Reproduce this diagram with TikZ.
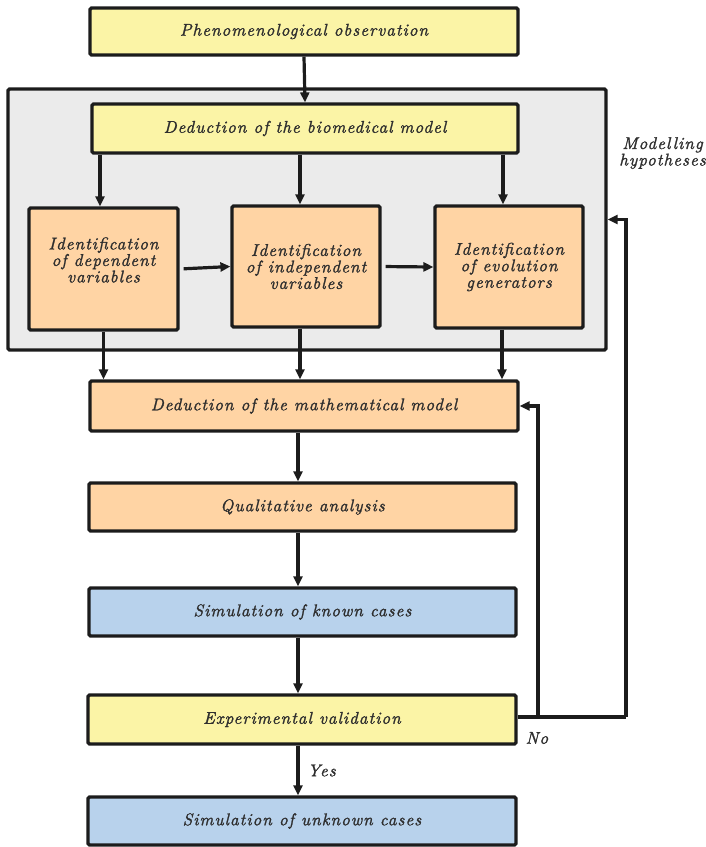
\documentclass[tikz,border=0pt]{standalone}
\usepackage{fontspec}
\usetikzlibrary{arrows.meta,calc}
\newfontfamily\labfont{lmroman10-italic}[Extension=.otf, LetterSpace=6, FakeBold=1.4]
\definecolor{cyel}{HTML}{FBF4A6}
\definecolor{corg}{HTML}{FFD4A4}
\definecolor{cblu}{HTML}{B8D2EC}
\definecolor{cgry}{HTML}{EBEBEB}
\definecolor{cbrd}{HTML}{1C1C1C}
\definecolor{ctxt}{HTML}{2E2E2E}
\begin{document}
\begin{tikzpicture}[x=1pt,y=-1pt,
  box/.style={draw=cbrd, line width=3.2pt, rounded corners=1.5pt, inner sep=0pt, align=center,
    text=ctxt, font=\labfont\fontsize{17}{16.5}\selectfont},
  ybox/.style={box, fill=cyel},
  obox/.style={box, fill=corg},
  bbox/.style={box, fill=cblu},
  arr/.style={draw=cbrd, line width=3.2pt, -{Triangle[length=10pt,width=9pt]}},
  ln/.style={draw=cbrd, line width=3.2pt},
  lbl/.style={text=ctxt, font=\labfont\fontsize{17}{16.5}\selectfont, inner sep=0pt, align=center}]
\useasboundingbox (0,0) rectangle (706,847);
\node[draw=cbrd, fill=cgry, line width=3.2pt, rounded corners=1.5pt, minimum width=598pt, minimum height=261pt] (cont) at (307,219.5) {};
\node[ybox, minimum width=428pt, minimum height=47pt] (obs) at (304,31.5) {Phenomenological observation};
\node[ybox, minimum width=426pt, minimum height=49pt] (bio) at (305,128.5) {Deduction of the biomedical model};
\node[obox, minimum width=149pt, minimum height=122pt] (dep) at (103.5,269) {};
\node[lbl] (deptxt) at ([yshift=9pt]dep.center) {Identification\\of dependent\\variables};
\node[obox, minimum width=148pt, minimum height=121pt] (ind) at (306,266.5) {Identification\\of independent\\variables};
\node[obox, minimum width=148pt, minimum height=122pt] (evo) at (509,267) {Identification\\of evolution\\generators};
\node[obox, minimum width=428pt, minimum height=50pt] (math) at (304,406) {Deduction of the mathematical model};
\node[obox, minimum width=427pt, minimum height=48pt] (qual) at (302.5,507) {Qualitative analysis};
\node[bbox, minimum width=427pt, minimum height=48pt] (known) at (302.5,612) {Simulation of known cases};
\node[ybox, minimum width=428pt, minimum height=49pt] (exp) at (302,719.5) {Experimental validation};
\node[bbox, minimum width=428pt, minimum height=48pt] (unk) at (302,821) {Simulation of unknown cases};
\node[lbl, anchor=north east] (hyp) at (706,137) {Modelling\\hypotheses};
% arrows
\draw[arr] (obs.south) -- (bio.north);
\draw[arr] ([xshift=-3.5pt]dep.north |- bio.south) -- ([xshift=-3.5pt]dep.north);
\draw[arr] ([xshift=-6pt]ind.north |- bio.south) -- ([xshift=-6pt]ind.north);
\draw[arr] ([xshift=-6pt]evo.north |- bio.south) -- ([xshift=-6pt]evo.north);
\draw[arr, shorten <=4pt] (dep.east) -- (ind.west);
\draw[arr, shorten <=4pt] (ind.east) -- (evo.west);
\draw[arr] (dep.south) -- (dep.south |- math.north);
\draw[arr] ([xshift=-6pt]ind.south) -- ([xshift=-6pt]ind.south |- math.north);
\draw[arr] ([xshift=-7pt]evo.south) -- ([xshift=-7pt]evo.south |- math.north);
\draw[arr] ([xshift=-6pt]math.south) -- ([xshift=-6pt]math.south |- qual.north);
\draw[arr] ([xshift=-4.5pt]qual.south) -- ([xshift=-4.5pt]qual.south |- known.north);
\draw[arr] ([xshift=-4.5pt]known.south) -- ([xshift=-4.5pt]known.south |- exp.north);
\draw[arr] ([xshift=-4pt]exp.south) -- node[lbl, right=8pt, pos=0.5] (yes) {Yes} ([xshift=-4pt]exp.south |- unk.north);
\coordinate (fb1) at (626,717);
\coordinate (fb2) at (538,717);
\draw[ln] (exp.east |- fb1) -- (fb1);
\draw[arr] (fb1) -- (fb1 |- cont.east) -- (cont.east);
\draw[arr] (fb2) -- (fb2 |- math.east) -- (math.east);
\node[lbl] (no) at (537,738) {No};
\end{tikzpicture}
\end{document}
